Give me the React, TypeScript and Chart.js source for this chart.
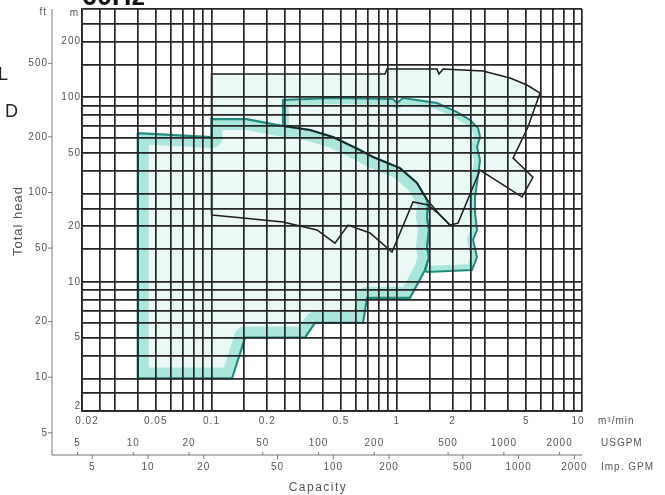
import React, { useEffect, useRef } from 'react';
import { Chart, registerables } from 'chart.js';

Chart.register(...registerables);

// ---- axis / grid values ----
const GRID_MULT = [1, 1.5, 2, 2.5, 3, 4, 5, 6, 7, 8, 9];
const FLOW_DECADES = [0.01, 0.1, 1, 10];
const HEAD_DECADES = [1, 10, 100];
const FLOW_MIN = 0.02;
const FLOW_MAX = 10;
const HEAD_MIN = 2;
const HEAD_MAX = 300;

const flowTicks = [0.02, 0.05, 0.1, 0.2, 0.5, 1, 2, 5, 10];
const flowTickLabels = ['0.02', '0.05', '0.1', '0.2', '0.5', '1', '2', '5', '10'];
const usgpmTicks = [5, 10, 20, 50, 100, 200, 500, 1000, 2000];
const impGpmTicks = [5, 10, 20, 50, 100, 200, 500, 1000, 2000];
const headMTicks = [200, 100, 50, 20, 10, 5, 2];
const headFtTicks = [500, 200, 100, 50, 20, 10, 5];

const USGPM_TO_M3MIN = 0.0037854;
const IMPGPM_TO_M3MIN = 0.0045461;
const FT_TO_M = 0.3048;

// ---- performance ranges (capacity m3/min, total head m) ----
const t1Flow = [0.04, 0.1, 0.1, 0.155, 0.2, 0.243, 0.34, 0.453, 0.633, 0.745, 1.041, 1.286, 1.457, 1.475, 1.457, 1.493, 1.457, 1.493, 1.421, 1.179, 0.691, 0.658, 0.362, 0.32, 0.152, 0.129, 0.04, 0.04];
const t1Head = [63.9, 60.8, 76.1, 76.1, 72.4, 69.8, 66.4, 60.8, 51.7, 47.4, 41.3, 34.3, 27.8, 26.1, 22.4, 19.1, 15.4, 13.6, 11.6, 8.2, 8.2, 6.0, 6.0, 5.0, 5.0, 3.0, 3.0, 63.9];

const t2Flow = [0.243, 0.243, 0.453, 0.955, 1.003, 1.081, 1.65, 2.116, 2.486, 2.746, 2.816, 2.712, 2.816, 2.712, 2.646, 2.646, 2.712, 2.58, 2.712, 2.548, 1.457, 1.421, 1.493, 1.457, 1.493, 1.457, 1.475, 1.457, 1.286, 1.041, 0.745, 0.633, 0.453, 0.34, 0.243];
const t2Head = [69.8, 96.5, 98.9, 97.7, 92.9, 98.9, 92.9, 83.0, 75.2, 68.0, 60.8, 53.7, 45.7, 34.3, 28.8, 23.6, 19.1, 16.9, 13.6, 11.6, 11.3, 11.6, 13.6, 15.4, 19.1, 22.4, 26.1, 27.8, 34.3, 41.3, 47.4, 51.7, 60.8, 66.4, 69.8];

const outerFlow = [0.1, 0.1, 0.864, 0.886, 1.65, 1.691, 1.777, 2.922, 4.088, 5.05, 5.936, 5.578, 5.112, 4.244, 5.44, 4.746, 3.61, 2.816, 2.142, 1.938, 1.712, 1.475, 1.224, 0.943, 0.717, 0.546, 0.464, 0.371, 0.243, 0.148, 0.1];
const outerHead = [23.0, 133.4, 133.4, 142, 142, 133.4, 142, 138.5, 126.9, 116.3, 105.2, 88.4, 68.9, 46.8, 36.9, 28.8, 34.3, 40.3, 20.8, 20.3, 23.0, 26.1, 27.1, 14.5, 18.4, 20.3, 16.2, 19.1, 21.1, 22.2, 23.0];

const innerFlow = [0.243, 0.34, 0.453, 0.633, 0.745, 1.041, 1.286, 1.457, 1.712, 1.938];
const innerHead = [69.8, 66.4, 60.8, 51.7, 47.4, 41.3, 34.3, 27.8, 23.0, 20.3];

const PALE = '#eaf8f6';
const BAND = '#abe6dd';
const TEAL = '#1f8c80';
const INK = '#1c1c1c';
const GRID = '#262626';
const LABEL = '#555555';
const FONT = '"Liberation Sans", Arial, sans-serif';

const gridValues = (decades: number[], lo: number, hi: number) => {
  const out: number[] = [];
  decades.forEach((d) => GRID_MULT.forEach((m) => {
    const v = d * m;
    if (v >= lo * 0.999 && v <= hi * 1.001) out.push(v);
  }));
  return out;
};

const toPoints = (xs: number[], ys: number[]) => xs.map((x, i) => ({ x, y: ys[i] }));

const bandPlugin = {
  id: 'bands',
  beforeDatasetsDraw(chart: any) {
    const { ctx, chartArea } = chart;
    chart.data.datasets.forEach((ds: any, i: number) => {
      if (!ds.bandWidth) return;
      const pts = chart.getDatasetMeta(i).data;
      ctx.save();
      ctx.beginPath();
      ctx.rect(chartArea.left, chartArea.top, chartArea.right - chartArea.left, chartArea.bottom - chartArea.top);
      ctx.clip();
      ctx.beginPath();
      pts.forEach((p: any, k: number) => (k ? ctx.lineTo(p.x, p.y) : ctx.moveTo(p.x, p.y)));
      ctx.closePath();
      ctx.clip();
      ctx.beginPath();
      const end = ds.bandEnd ?? pts.length - 1;
      for (let k = 0; k <= end; k++) {
        const p = pts[k];
        if (k === 0) ctx.moveTo(p.x, p.y); else ctx.lineTo(p.x, p.y);
      }
      ctx.lineWidth = ds.bandWidth * 2;
      ctx.lineJoin = 'round';
      ctx.lineCap = 'round';
      ctx.strokeStyle = BAND;
      ctx.stroke();
      ctx.restore();
    });
  },
};

const textPlugin = {
  id: 'axisText',
  afterDraw(chart: any) {
    const { ctx } = chart;
    const xs = chart.scales.x;
    const ys = chart.scales.y;
    const right = xs.right;
    ctx.save();
    ctx.fillStyle = LABEL;
    ctx.strokeStyle = '#777';
    ctx.lineWidth = 1;
    ctx.font = `10px ${FONT}`;
    ctx.letterSpacing = '1px';

    // metre head labels
    ctx.textAlign = 'right';
    ctx.textBaseline = 'middle';
    headMTicks.forEach((v) => {
      let y = ys.getPixelForValue(v);
      if (v === HEAD_MIN) y -= 5;
      ctx.fillText(String(v), 81, y);
    });
    ctx.fillText('m', 79, 13);

    // feet head axis
    const ftX = 52;
    const baseY = 455;
    ctx.beginPath();
    ctx.moveTo(ftX, ys.top);
    ctx.lineTo(ftX, baseY);
    ctx.lineTo(right, baseY);
    ctx.stroke();
    headFtTicks.forEach((v) => {
      const y = ys.getPixelForValue(v * FT_TO_M);
      ctx.beginPath();
      ctx.moveTo(ftX - 4, y);
      ctx.lineTo(ftX, y);
      ctx.stroke();
      ctx.fillText(String(v), ftX - 4, y);
    });
    ctx.fillText('ft', 47, 12);

    // capacity m3/min labels
    ctx.textAlign = 'center';
    flowTicks.forEach((v, i) => {
      let x = xs.getPixelForValue(v);
      if (i === 0) x += 5;
      if (i === flowTicks.length - 1) x -= 4;
      ctx.fillText(flowTickLabels[i], x, 421);
    });
    // USGPM
    usgpmTicks.forEach((v) => {
      const x = xs.getPixelForValue(v * USGPM_TO_M3MIN);
      ctx.beginPath();
      ctx.moveTo(x, baseY - 3);
      ctx.lineTo(x, baseY);
      ctx.stroke();
      ctx.fillText(String(v), x, 443);
    });
    // Imp GPM
    impGpmTicks.forEach((v) => {
      const x = xs.getPixelForValue(v * IMPGPM_TO_M3MIN);
      ctx.beginPath();
      ctx.moveTo(x, baseY);
      ctx.lineTo(x, baseY + 4);
      ctx.stroke();
      ctx.fillText(String(v), x, 467);
    });
    ctx.textAlign = 'left';
    ctx.fillText('m\u00B3/min', 598, 421);
    ctx.fillText('USGPM', 601, 443);
    ctx.fillText('Imp. GPM', 601, 467);

    ctx.font = `12px ${FONT}`;
    ctx.letterSpacing = '1.5px';
    ctx.textAlign = 'center';
    ctx.fillText('Capacity', 318, 488);

    ctx.save();
    ctx.translate(18, 221);
    ctx.rotate(-Math.PI / 2);
    ctx.font = `13px ${FONT}`;
    ctx.letterSpacing = '1px';
    ctx.fillText('Total head', 0, 0);
    ctx.restore();

    // clipped header fragments
    ctx.letterSpacing = '0px';
    ctx.fillStyle = '#111';
    ctx.font = `bold 27px ${FONT}`;
    ctx.textAlign = 'left';
    ctx.textBaseline = 'alphabetic';
    ctx.fillText('60Hz', 82, 5);
    ctx.fillStyle = '#222';
    ctx.font = `18px ${FONT}`;
    ctx.textBaseline = 'middle';
    ctx.fillText('D', 5, 112);
    ctx.fillText('L', -2, 75);
    ctx.restore();
  },
};

export default function App() {
  const ref = useRef<HTMLCanvasElement | null>(null);

  useEffect(() => {
    if (!ref.current) return;
    const xGrid = gridValues(FLOW_DECADES, FLOW_MIN, FLOW_MAX);
    const yGrid = gridValues(HEAD_DECADES, HEAD_MIN, HEAD_MAX);
    const common = {
      showLine: true,
      pointRadius: 0,
      tension: 0,
      borderJoinStyle: 'miter' as const,
    };
    const chart = new Chart(ref.current, {
      type: 'scatter',
      data: {
        datasets: [
          { ...common, label: 'inner', data: toPoints(innerFlow, innerHead), borderColor: INK, borderWidth: 1.5, fill: false },
          { ...common, label: 'outer', data: toPoints(outerFlow, outerHead), borderColor: INK, borderWidth: 1.5, fill: 'shape', backgroundColor: PALE },
          { ...common, label: 't2', data: toPoints(t2Flow, t2Head), borderColor: TEAL, borderWidth: 2, fill: 'shape', backgroundColor: PALE, bandWidth: 6, bandEnd: 21 } as any,
          { ...common, label: 't1', data: toPoints(t1Flow, t1Head), borderColor: TEAL, borderWidth: 2.2, fill: 'shape', backgroundColor: PALE, bandWidth: 11 } as any,
        ],
      },
      options: {
        responsive: false,
        animation: false,
        events: [],
        layout: { padding: { left: 82, top: 9, right: 83, bottom: 84 } },
        plugins: {
          legend: { display: false },
          tooltip: { enabled: false },
          filler: { drawTime: 'beforeDatasetsDraw' } as any,
        },
        scales: {
          x: {
            type: 'logarithmic',
            min: FLOW_MIN,
            max: FLOW_MAX,
            ticks: { display: false },
            grid: { color: GRID, lineWidth: 1.7, drawTicks: false, z: 1 } as any,
            border: { display: true, color: GRID, width: 1.7, z: 1 } as any,
            afterBuildTicks: (s: any) => { s.ticks = xGrid.map((v) => ({ value: v })); },
          },
          y: {
            type: 'logarithmic',
            min: HEAD_MIN,
            max: HEAD_MAX,
            ticks: { display: false },
            grid: { color: GRID, lineWidth: 1.7, drawTicks: false, z: 1 } as any,
            border: { display: true, color: GRID, width: 1.7, z: 1 } as any,
            afterBuildTicks: (s: any) => { s.ticks = yGrid.map((v) => ({ value: v })); },
          },
        },
      },
      plugins: [bandPlugin, textPlugin],
    });
    return () => chart.destroy();
  }, []);

  return (
    <div style={{ position: 'fixed', left: 0, top: 0, width: 665, height: 495, background: '#fff' }}>
      <canvas ref={ref} width={665} height={495} style={{ display: 'block' }} />
    </div>
  );
}
